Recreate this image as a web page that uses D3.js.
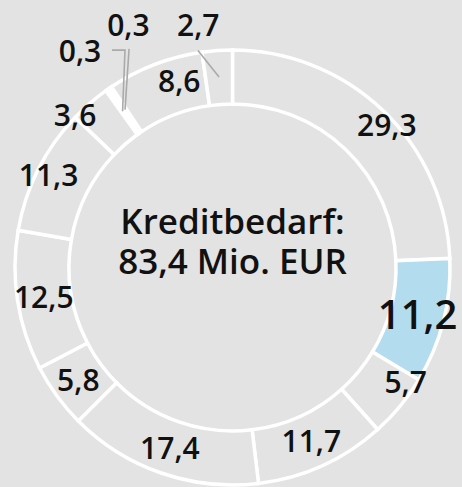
<!DOCTYPE html>
<html>
<head>
<meta charset="utf-8">
<script src="https://cdn.jsdelivr.net/npm/d3@7"></script>
<style>
  body { margin: 0; background: #e3e3e3; }
  text { font-family: "Open Sans", "Noto Sans", sans-serif; font-weight: 600; fill: #111; }
</style>
</head>
<body>
<script>
// Werte im Uhrzeigersinn ab 12 Uhr
let values = [29.3, 11.2, 5.7, 11.7, 17.4, 5.8, 12.5, 11.3, 3.6, 0.3, 0.3, 8.6, 2.7];
let labels = ['29,3', '11,2', '5,7', '11,7', '17,4', '5,8', '12,5', '11,3', '3,6', '0,3', '0,3', '8,6', '2,7'];
let highlight = 1;
let centerLines = ['Kreditbedarf:', '83,4 Mio. EUR'];

let width = 462;
let height = 487;
let cx = 232.5, cy = 267.5;
let rIn = 163.5, rOut = 217.5, rMid = 191;

// label nudges: [angle shift in deg, radius]
let nudge = { 0: [3.5, 210], 2: [-6, 208], 7: [0, 206], 8: [-5, 219], 11: [5, 194],
  9: [0, 265], 10: [11, 264], 12: [-4, 245] };

let svg = d3.select('body')
  .append('svg')
  .attr('width', width)
  .attr('height', height);

let g = svg.append('g').attr('transform', `translate(${cx},${cy})`);

let pie = d3.pie().sort(null).value(d => d);
let arcs = pie(values);

let arc = d3.arc().innerRadius(rIn).outerRadius(rOut);

g.selectAll('path.slice')
  .data(arcs)
  .enter()
  .append('path')
  .attr('class', 'slice')
  .attr('d', arc)
  .style('fill', (d, i) => i === highlight ? '#b4dcef' : (d.value < 1 ? '#fff' : '#e3e3e3'))
  .style('stroke', '#fff')
  .style('stroke-width', 3.5)
  .style('stroke-linejoin', 'miter');

let polar = (a, r) => [Math.sin(a) * r, -Math.cos(a) * r];
let mid = d => (d.startAngle + d.endAngle) / 2;

let labelPos = arcs.map((d, i) => {
  let n = nudge[i] || [0, rMid];
  return polar(mid(d) + n[0] * Math.PI / 180, n[1]);
});

// leader lines for the small outside labels
let leaders = [
  { i: 12, pts: p => [[p[0] - 0.3, p[1] + 25.5]] },
  { i: 10, pts: p => [[p[0] + 0.7, p[1] + 24]] },
  { i: 9, pts: p => [[p[0] + 32, p[1] - 0.7], [p[0] + 45, p[1] - 0.7]] }
];

let line = d3.line();
leaders.forEach(l => {
  let p = labelPos[l.i];
  let pts = l.pts(p).concat([polar(mid(arcs[l.i]), rMid)]);
  g.append('path')
    .attr('d', line(pts))
    .style('fill', 'none')
    .style('stroke', '#aaa')
    .style('stroke-width', 1.6);
});

g.selectAll('text.lbl')
  .data(arcs)
  .enter()
  .append('text')
  .attr('class', 'lbl')
  .attr('x', (d, i) => labelPos[i][0])
  .attr('y', (d, i) => labelPos[i][1])
  .attr('dy', '0.36em')
  .attr('text-anchor', 'middle')
  .style('font-size', (d, i) => i === highlight ? '40px' : '30px')
  .text((d, i) => labels[i]);

// center title as one text block, two lines
g.append('text')
  .attr('class', 'center')
  .attr('text-anchor', 'middle')
  .style('font-size', '35px')
  .selectAll('tspan')
  .data(centerLines)
  .enter()
  .append('tspan')
  .attr('x', 0)
  .attr('y', (d, i) => -34 + i * 40)
  .text(d => d);
</script>
</body>
</html>
